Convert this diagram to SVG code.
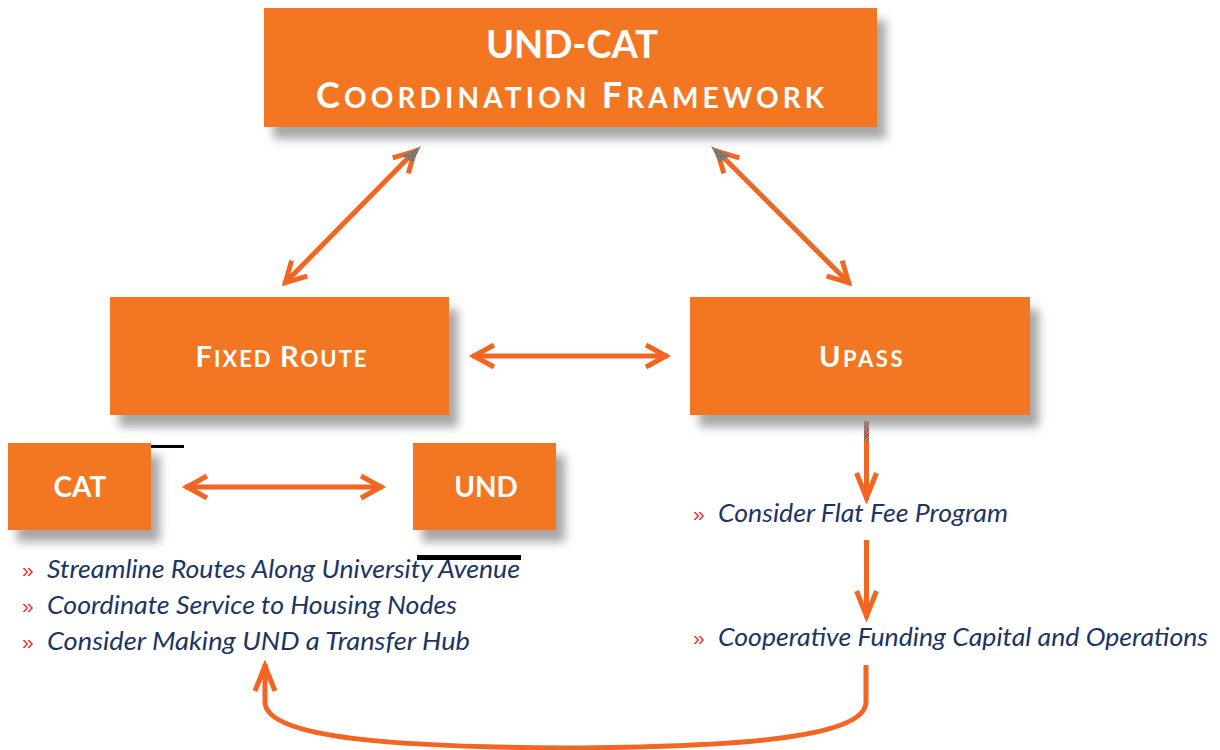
<svg xmlns="http://www.w3.org/2000/svg" width="1220" height="750" viewBox="0 0 1220 750">
<style>
.box{fill:#F37721;filter:url(#sh);}
.lbl{font-family:Lato,"Liberation Sans",sans-serif;font-weight:700;fill:#fff;text-anchor:middle;}
.con{stroke:#F26522;stroke-width:5;fill:none;}
.arr{marker-start:url(#ah);marker-end:url(#ah);}
.item{font-family:Lato,"Liberation Sans",sans-serif;font-style:italic;font-size:26px;fill:#1C3564;}
.bul{font-family:"Liberation Sans",sans-serif;font-size:21px;fill:#E8302F;}
</style>
<defs>
<filter id="sh" x="-10%" y="-20%" width="130%" height="150%">
<feDropShadow dx="9" dy="12" stdDeviation="5" flood-color="#8a8a8a" flood-opacity="0.75"/>
</filter>
<marker id="ah" viewBox="-26 -14 30 28" refX="0" refY="0" markerWidth="30" markerHeight="28" orient="auto-start-reverse" markerUnits="userSpaceOnUse">
<path d="M-22,-11 L-2,0 L-22,11" fill="none" stroke="#F26522" stroke-width="5" stroke-linejoin="miter" stroke-miterlimit="10"/>
</marker>
<marker id="ahd" viewBox="-30 -14 34 28" refX="0" refY="0" markerWidth="34" markerHeight="28" orient="auto" markerUnits="userSpaceOnUse">
<path d="M-27,-10 L-2,0 L-27,10" fill="none" stroke="#F26522" stroke-width="5" stroke-linejoin="miter" stroke-miterlimit="12"/>
</marker>
<pattern id="px" width="4" height="4" patternUnits="userSpaceOnUse">
<rect width="4" height="4" fill="#7d7a6a"/>
<rect width="1" height="1" fill="#3a5fc0"/>
<rect x="2" y="1" width="1" height="1" fill="#d07a30"/>
<rect x="1" y="2" width="1" height="1" fill="#50a050"/>
<rect x="3" y="3" width="1" height="1" fill="#c04080"/>
</pattern>
<pattern id="st" width="4" height="4" patternUnits="userSpaceOnUse" patternTransform="rotate(45)">
<rect width="4" height="4" fill="#e8a020"/>
<rect width="1.3" height="4" fill="#3050c0"/>
<rect x="2" width="1" height="4" fill="#d03030"/>
</pattern>
</defs>

<g id="connectors">
<line class="con arr" x1="416" y1="150" x2="284" y2="284"/>
<line class="con arr" x1="716" y1="150" x2="850" y2="284"/>
<polygon points="421,146 402,156 413,162" fill="url(#px)"/>
<polygon points="711,146 730,156 719,162" fill="url(#px)"/>
<line class="con arr" x1="472" y1="356" x2="668" y2="356"/>
<line class="con arr" x1="185" y1="487" x2="383" y2="487"/>
<rect x="864" y="421" width="5" height="20" fill="url(#st)"/>
<line x1="866.5" y1="441" x2="866.5" y2="500" stroke="#F26522" stroke-width="5" marker-end="url(#ahd)"/>
<line x1="866.5" y1="540" x2="866.5" y2="618" stroke="#F26522" stroke-width="5" marker-end="url(#ahd)"/>
<path d="M866,665 L866,702 C866,740 720,747 565,748 C410,747 265,740 265,702 L265,664" stroke="#F26522" stroke-width="5" fill="none" marker-end="url(#ahd)"/>
<rect x="151" y="445" width="33" height="3" fill="#000"/>
<rect x="417" y="555" width="104" height="5" fill="#000"/>
</g>

<g id="node-framework">
<rect class="box" x="264" y="8" width="613" height="119"/>
<text class="lbl" x="572" y="58" font-size="38">UND-CAT</text>
<text class="lbl" x="571" y="108" font-size="28" letter-spacing="2" textLength="510" lengthAdjust="spacing"><tspan font-size="36">C</tspan>OORDINATION <tspan font-size="36">F</tspan>RAMEWORK</text>
</g>

<g id="node-fixed-route">
<rect class="box" x="110" y="297" width="339" height="118"/>
<text class="lbl" x="282" y="367" font-size="22" letter-spacing="2"><tspan font-size="29">F</tspan>IXED <tspan font-size="29">R</tspan>OUTE</text>
</g>

<g id="node-upass">
<rect class="box" x="690" y="297" width="340" height="118"/>
<text class="lbl" x="862" y="367" font-size="22" letter-spacing="2.5"><tspan font-size="29">U</tspan>PASS</text>
</g>

<g id="node-cat">
<rect class="box" x="8" y="443" width="143" height="87"/>
<text class="lbl" x="80" y="497" font-size="28">CAT</text>
</g>

<g id="node-und">
<rect class="box" x="413" y="443" width="143" height="87"/>
<text class="lbl" x="486" y="497" font-size="28">UND</text>
</g>

<g id="list-fixed-route">
<text class="bul" x="22" y="577">»</text>
<text class="item" x="47" y="578" textLength="473" lengthAdjust="spacingAndGlyphs">Streamline Routes Along University Avenue</text>
<text class="bul" x="22" y="613">»</text>
<text class="item" x="47" y="614" textLength="410" lengthAdjust="spacingAndGlyphs">Coordinate Service to Housing Nodes</text>
<text class="bul" x="22" y="649">»</text>
<text class="item" x="47" y="650" textLength="423" lengthAdjust="spacingAndGlyphs">Consider Making UND a Transfer Hub</text>
</g>

<g id="list-upass">
<text class="bul" x="693" y="521">»</text>
<text class="item" x="718" y="522" textLength="290" lengthAdjust="spacingAndGlyphs">Consider Flat Fee Program</text>
<text class="bul" x="693" y="645">»</text>
<text class="item" x="718" y="646" textLength="490" lengthAdjust="spacingAndGlyphs">Cooperative Funding Capital and Operations</text>
</g>
</svg>
